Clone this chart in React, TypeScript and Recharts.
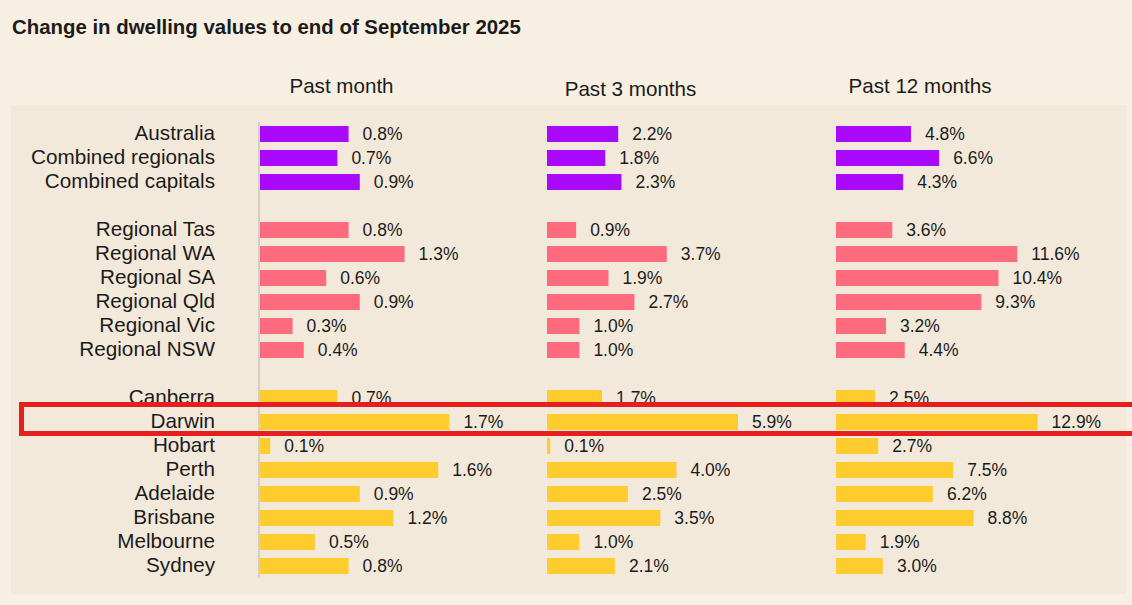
import React from 'react';
import { BarChart, Bar, XAxis, YAxis, Cell, LabelList } from 'recharts';

// regions, top to bottom, in three groups
const nationalAreas = ['Australia', 'Combined regionals', 'Combined capitals'];
const regionalAreas = ['Regional Tas', 'Regional WA', 'Regional SA', 'Regional Qld', 'Regional Vic', 'Regional NSW'];
const capitalCities = ['Canberra', 'Darwin', 'Hobart', 'Perth', 'Adelaide', 'Brisbane', 'Melbourne', 'Sydney'];

// % change, same order as the regions above
const pastMonth = [0.8, 0.7, 0.9, 0.8, 1.3, 0.6, 0.9, 0.3, 0.4, 0.7, 1.7, 0.1, 1.6, 0.9, 1.2, 0.5, 0.8];
const past3Months = [2.2, 1.8, 2.3, 0.9, 3.7, 1.9, 2.7, 1.0, 1.0, 1.7, 5.9, 0.1, 4.0, 2.5, 3.5, 1.0, 2.1];
const past12Months = [4.8, 6.6, 4.3, 3.6, 11.6, 10.4, 9.3, 3.2, 4.4, 2.5, 12.9, 2.7, 7.5, 6.2, 8.8, 1.9, 3.0];

const columnTitles = ['Past month', 'Past 3 months', 'Past 12 months'];
const groupColors = ['#a90afc', '#ff6b7e', '#ffcc2e'];

const FONT = '"Liberation Sans", Arial, sans-serif';
const TEXT = '#1c1b1a';

type Row = {
  key: string;
  group: number;
  month: number | null;
  three: number | null;
  twelve: number | null;
};

const rows: Row[] = [];
let idx = 0;
[nationalAreas, regionalAreas, capitalCities].forEach((names, g) => {
  if (g > 0) rows.push({ key: `gap-${g}`, group: g, month: null, three: null, twelve: null });
  names.forEach((name) => {
    rows.push({ key: name, group: g, month: pastMonth[idx], three: past3Months[idx], twelve: past12Months[idx] });
    idx++;
  });
});

const fmt = (v: any) => (v == null ? '' : `${Number(v).toFixed(1)}%`);

// region name, right aligned against the axis
const NameTick = (props: any) => {
  const { x, y, payload } = props;
  const k: string = payload.value;
  if (k.startsWith('gap')) return null;
  return (
    <text x={x} y={y - 1} dy="0.355em" textAnchor="end" fontSize={20.7} fill={TEXT} fontFamily={FONT}>
      {k}
    </text>
  );
};

interface ColumnProps {
  left: number;
  plotWidth: number;
  max: number;
  dataKey: 'month' | 'three' | 'twelve';
  showNames?: boolean;
  rightPad: number;
}

const Column: React.FC<ColumnProps> = ({ left, plotWidth, max, dataKey, showNames, rightPad }) => {
  const axisW = showNames ? 259 : 0;
  return (
    <div style={{ position: 'absolute', left, top: 122 }}>
      <BarChart
        layout="vertical"
        width={axisW + plotWidth + rightPad}
        height={456}
        data={rows}
        margin={{ top: 0, right: rightPad, bottom: 0, left: 0 }}
        barSize={16}
      >
        <XAxis type="number" domain={[0, max]} hide />
        <YAxis
          type="category"
          dataKey="key"
          hide={!showNames}
          width={axisW}
          interval={0}
          tickSize={0}
          tickMargin={44}
          axisLine={{ stroke: '#d5cfc5', strokeWidth: 2 }}
          tick={<NameTick />}
        />
        <Bar dataKey={dataKey} isAnimationActive={false}>
          {rows.map((r) => (
            <Cell key={r.key} fill={groupColors[r.group]} />
          ))}
          <LabelList
            dataKey={dataKey}
            position="right"
            offset={14}
            formatter={fmt}
            style={{ fontSize: 17.5, fill: TEXT, fontFamily: FONT }}
          />
        </Bar>
      </BarChart>
    </div>
  );
};

export default function App() {
  const headerStyle: React.CSSProperties = {
    position: 'absolute',
    width: 240,
    textAlign: 'center',
    fontSize: 20.6,
    lineHeight: '20px',
    color: TEXT,
  };
  return (
    <div
      style={{
        position: 'absolute',
        left: 0,
        top: 0,
        width: 1132,
        height: 605,
        overflow: 'hidden',
        background: '#f7efe1',
        fontFamily: FONT,
      }}
    >
      <div
        style={{
          position: 'absolute',
          left: 12,
          top: 17,
          fontSize: 20.4,
          lineHeight: '20px',
          fontWeight: 700,
          color: TEXT,
          whiteSpace: 'nowrap',
        }}
      >
        Change in dwelling values to end of September 2025
      </div>

      <div style={{ ...headerStyle, left: 341.5 - 120, top: 76 }}>{columnTitles[0]}</div>
      <div style={{ ...headerStyle, left: 630.5 - 120, top: 79 }}>{columnTitles[1]}</div>
      <div style={{ ...headerStyle, left: 920 - 120, top: 76 }}>{columnTitles[2]}</div>

      <div
        style={{
          position: 'absolute',
          left: 11,
          top: 105,
          width: 1115,
          height: 489,
          background: '#f2e9da',
        }}
      />

      <Column left={0} plotWidth={224} max={2} dataKey="month" showNames rightPad={60} />
      <Column left={547} plotWidth={259} max={8} dataKey="three" rightPad={60} />
      <Column left={836} plotWidth={250} max={16} dataKey="twelve" rightPad={40} />

      {/* highlight around Darwin */}
      <div
        style={{
          position: 'absolute',
          left: 19,
          top: 402,
          width: 1120,
          height: 34,
          boxSizing: 'border-box',
          border: '5px solid #e61e1e',
        }}
      />
    </div>
  );
}
